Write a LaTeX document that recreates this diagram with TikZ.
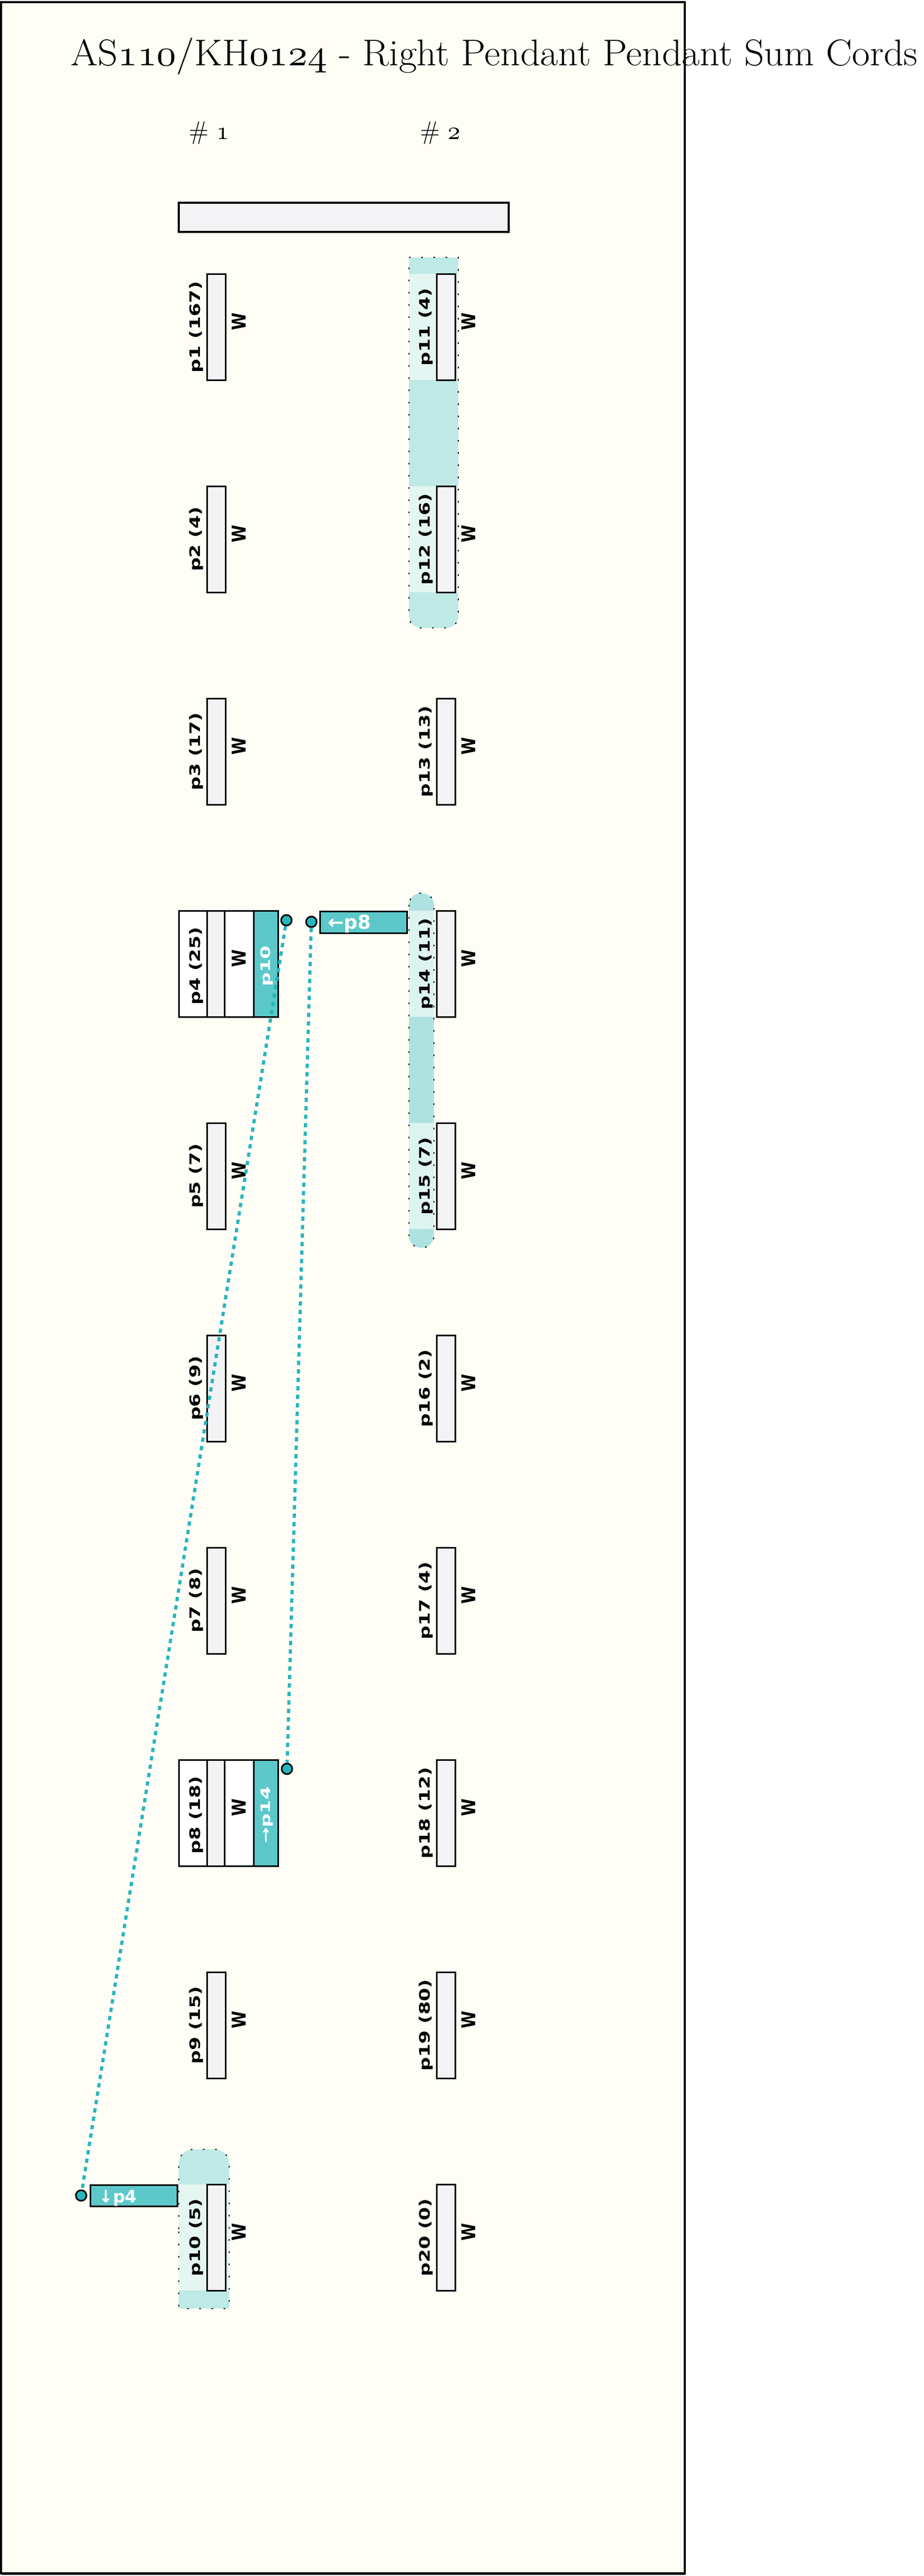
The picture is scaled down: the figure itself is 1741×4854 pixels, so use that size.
\documentclass[tikz,border=0pt]{standalone}
\usepackage{fontspec}
\usetikzlibrary{shadows}
\newfontfamily\dvsans{DejaVu Sans}
\DeclareFontFamily{OML}{myosf}{\skewchar\font'177}
\DeclareFontShape{OML}{myosf}{m}{it}{<-> cmmi10}{}
\definecolor{cream}{HTML}{FEFEF6}
\definecolor{cordgray}{HTML}{F3F3F5}
\definecolor{gdark}{HTML}{BEE9E5}
\definecolor{glight}{HTML}{E4F6F1}
\definecolor{gdarkb}{HTML}{AEE2E1}
\definecolor{glightb}{HTML}{DDF3F0}
\definecolor{tealfill}{HTML}{5CC8CA}
\definecolor{tealdot}{HTML}{26B5BC}
\newcommand\oldnum[1]{{\usefont{OML}{myosf}{m}{it}#1}}
\newcommand\labtext[1]{\scalebox{1.13}[0.85]{\dvsans\bfseries\fontsize{32}{32}\selectfont #1}}
\newcommand\wtext{\scalebox{1}[1.2]{\dvsans\bfseries\fontsize{30}{30}\selectfont W}}
\newcommand\celltext[1]{\scalebox{1.1}[0.75]{\dvsans\bfseries\fontsize{33}{33}\selectfont\color{white}#1}}
\newcommand\boxtext[2]{{\dvsans\bfseries\fontsize{#1}{#1}\selectfont\color{white}#2}}
\begin{document}
\begin{tikzpicture}[x=1pt,y=-1pt,
  shad/.style={general shadow={fill=black!75, shadow xshift=0.8pt, shadow yshift=-1.6pt}},
  cord/.style={draw, line width=3pt, fill=cordgray, minimum width=35pt, minimum height=200pt, inner sep=0pt, shad},
  cell/.style={draw, line width=3pt, minimum height=200pt, inner sep=0pt, shad},
  lab/.style={rotate=90, inner sep=0pt},
  tealbox/.style={draw, line width=3pt, fill=tealfill, inner sep=0pt, shad},
  dot/.style={circle, draw, line width=3pt, fill=tealdot, minimum size=20pt, inner sep=0pt},
  link/.style={draw=tealdot, line width=6pt, dash pattern=on 8pt off 8pt},
  gborder/.style={draw=black, line width=2pt, dash pattern=on 3pt off 20pt},
]
\useasboundingbox[fill=white] (0,0) rectangle (1741,4854);
% frame
\draw[line width=4pt, fill=cream, general shadow={fill=black!80, shadow xshift=1pt, shadow yshift=-2.5pt}] (2,4) rectangle (1291,4849);
% title and headers
\node[anchor=base, inner sep=0pt] (title) at (932,123) {\scalebox{1.05}[1]{\fontsize{70}{84}\selectfont AS\oldnum{110}/KH\oldnum{0124} - Right Pendant Pendant Sum Cords}};
\node[inner sep=0pt] (h1) at (394,251) {\fontsize{48}{52}\selectfont \# \oldnum{1}};
\node[inner sep=0pt] (h2) at (830,251) {\fontsize{48}{52}\selectfont \# \oldnum{2}};
% top bar
\node[draw, line width=4pt, fill=cordgray, minimum width=622pt, minimum height=55pt, inner sep=0pt, shad] (bar) at (648,409.5) {};
% group highlights: fills
\path[fill=gdark] (771,485) -- (864,485) -- (864,900) [rounded corners=22pt] -- (864,1183) -- (771,1183) -- (771,900) [sharp corners] -- cycle;
\fill[glight] (771,516) rectangle (864,716);
\fill[glight] (771,916) rectangle (864,1116);
\path[fill=gdarkb, rounded corners=22pt] (771,1683) rectangle (818,2351);
\fill[glightb] (771,1716) rectangle (818,1916);
\fill[glightb] (771,2116) rectangle (818,2316);
\path[fill=gdark] (337,4200) [rounded corners=27pt] -- (337,4050) -- (432,4050) -- (432,4200) [sharp corners] -- (432,4350) -- (337,4350) -- cycle;
\fill[glight] (337,4116) rectangle (432,4316);
% group highlights: borders
\path[gborder] (771,485) -- (864,485) -- (864,900) [rounded corners=22pt] -- (864,1183) -- (771,1183) -- (771,900) [sharp corners] -- cycle;
\path[gborder, rounded corners=22pt] (771,1683) rectangle (818,2351);
\path[gborder] (337,4200) [rounded corners=27pt] -- (337,4050) -- (432,4050) -- (432,4200) [sharp corners] -- (432,4350) -- (337,4350) -- cycle;
% column 1 plain cords
\foreach \i/\t in {1/167,2/4,3/17,5/7,6/9,7/8,9/15,10/5}{
  \pgfmathsetmacro\yc{616+400*(\i-1)}
  \node[cord] (c\i) at (407.5,\yc) {};
  \node[lab] (l\i) at (370,\yc) {\labtext{p\i\ (\t)}};
  \node[lab] (w\i) at (450,\yc-10) {\wtext};
}
% column 2 cords
\foreach \i/\t in {11/4,12/16,13/13,14/11,15/7,16/2,17/4,18/12,19/80,20/0}{
  \pgfmathsetmacro\yc{616+400*(\i-11)}
  \node[cord] (c\i) at (840.5,\yc) {};
  \node[lab] (l\i) at (803,\yc) {\labtext{p\i\ (\t)}};
  \node[lab] (w\i) at (883,\yc-10) {\wtext};
}
% composite rows p4 and p8
\foreach \i/\t/\s in {4/25/p10,8/18/{→p14}}{
  \pgfmathsetmacro\yc{616+400*(\i-1)}
  \node[cell, fill=white, minimum width=53pt] (k\i) at (363.5,\yc) {};
  \node[cell, fill=cordgray, minimum width=33pt] (c\i) at (406.5,\yc) {};
  \node[cell, fill=white, minimum width=55pt] (v\i) at (450.5,\yc) {};
  \node[cell, fill=tealfill, minimum width=46pt] (t\i) at (501,\yc) {};
  \node[lab] (l\i) at (370,\yc+4) {\labtext{p\i\ (\t)}};
  \node[lab] (w\i) at (450,\yc-10) {\wtext};
  \node[lab] (s\i) at (503,\yc+4) {\celltext{\s}};
}
% horizontal teal boxes
\node[tealbox, minimum width=164pt, minimum height=41pt] (b8) at (685,1737.5) {};
\node[anchor=base west, inner sep=0pt] (b8t) at (618,1750) {\boxtext{36}{←p8}};
\node[tealbox, minimum width=164pt, minimum height=40pt] (b4) at (252,4137) {};
\node[anchor=base west, inner sep=0pt] (b4t) at (186,4150) {\boxtext{32}{↓p4}};
% dots
\node[dot] (d4a) at (540,1734) {};
\node[dot] (d4b) at (587,1737) {};
\node[dot] (d8) at (541,3333) {};
\node[dot] (d10) at (153,4137) {};
% links
\draw[link] (d4a) -- (d10);
\draw[link] (d4b) -- (d8);
\end{tikzpicture}
\end{document}
